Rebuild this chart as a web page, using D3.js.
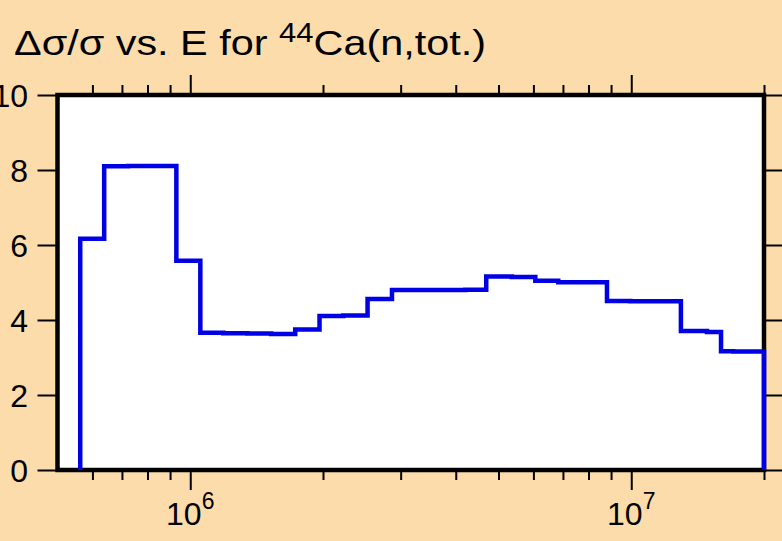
<!DOCTYPE html>
<html lang="en">
<head>
    <meta charset="UTF-8">
    <title>Relative uncertainty vs. E for 44Ca(n,tot.)</title>
    <style>
        body {
            margin: 0;
            background: #fddcab;
            font-family: "Liberation Sans", Arial, sans-serif;
        }
        .axis path {
            display: none;
        }
        .axis line {
            stroke: #000;
            stroke-width: 2px;
        }
    </style>
</head>
<body>
    <div id="chart"></div>

    <script src="https://d3js.org/d3.v7.min.js"></script>
    <script>
        // bin lower edges (eV) and relative uncertainty (%) of each bin
        var binEdges = [5.63e5, 6.38e5, 7.23e5, 8.2e5, 9.3e5, 1.054e6, 1.188e6, 1.347e6, 1.526e6,
            1.73e6, 1.964e6, 2.223e6, 2.524e6, 2.867e6, 3.237e6, 3.65e6, 4.205e6, 4.69e6,
            5.36e6, 6.06e6, 6.83e6, 8.81e6, 9.95e6, 1.104e7, 1.213e7, 1.296e7, 1.485e7,
            1.598e7, 1.703e7];
        var binValues = [6.17, 8.10, 8.11, 8.11, 5.58, 3.66, 3.65, 3.64, 3.63,
            3.75, 4.11, 4.12, 4.56, 4.80, 4.80, 4.80, 4.81, 5.16,
            5.15, 5.05, 5.01, 4.51, 4.50, 4.50, 4.50, 3.71, 3.68,
            3.17, 3.16];
        var lastEdge = 2e7;

        var xDomain = [5e5, 2e7];
        var yDomain = [0, 10];
        var yTicks = [0, 2, 4, 6, 8, 10];
        var xMajor = [1e6, 1e7];
        var xMajorExp = ["6", "7"];
        var xMinor = [6e5, 7e5, 8e5, 9e5, 2e6, 3e6, 4e6, 5e6, 6e6, 7e6, 8e6, 9e6, 2e7];

        var width = 782,
            height = 541;
        var plotL = 57.5, plotR = 764, plotT = 95, plotB = 470;

        var svg = d3.select("#chart").append("svg")
            .attr("width", width)
            .attr("height", height)
            .style("display", "block");

        var x = d3.scaleLog().domain(xDomain).range([plotL, plotR]);
        var y = d3.scaleLinear().domain(yDomain).range([plotB, plotT]);

        // title (the original lettering is a bit wider than Liberation Sans)
        var title = svg.append("text")
            .attr("transform", "translate(14,55) scale(1.15,1)")
            .attr("font-size", 36);
        title.append("tspan").text("\u0394\u03c3/\u03c3 vs. E for ");
        title.append("tspan").attr("dy", -13).attr("font-size", 27).text("44");
        title.append("tspan").attr("dy", 13).text("Ca(n,tot.)");

        // plot area
        svg.append("rect")
            .attr("x", plotL)
            .attr("y", plotT)
            .attr("width", plotR - plotL)
            .attr("height", plotB - plotT)
            .attr("fill", "#fff");

        // axes
        svg.append("g").attr("class", "axis")
            .attr("transform", "translate(0," + plotB + ")")
            .call(d3.axisBottom(x).tickValues(xMajor).tickSize(20).tickFormat(""));
        svg.append("g").attr("class", "axis")
            .attr("transform", "translate(0," + plotB + ")")
            .call(d3.axisBottom(x).tickValues(xMinor).tickSize(10).tickFormat(""));
        svg.append("g").attr("class", "axis")
            .attr("transform", "translate(0," + plotT + ")")
            .call(d3.axisTop(x).tickValues(xMajor).tickSize(20).tickFormat(""));
        svg.append("g").attr("class", "axis")
            .attr("transform", "translate(0," + plotT + ")")
            .call(d3.axisTop(x).tickValues(xMinor).tickSize(10).tickFormat(""));
        svg.append("g").attr("class", "axis")
            .attr("transform", "translate(" + plotL + ",0)")
            .call(d3.axisLeft(y).tickValues(yTicks).tickSize(20).tickFormat(""));
        svg.append("g").attr("class", "axis")
            .attr("transform", "translate(" + plotR + ",0)")
            .call(d3.axisRight(y).tickValues(yTicks).tickSize(20).tickFormat(""));

        // y labels
        svg.selectAll(".ylbl")
            .data(yTicks)
            .enter().append("text")
            .attr("class", "ylbl")
            .attr("font-size", 32)
            .attr("x", 28)
            .attr("y", function(d) { return y(d); })
            .attr("dy", "0.36em")
            .attr("text-anchor", "end")
            .text(function(d) { return d; });

        // x labels 10^n
        var xl = svg.selectAll(".xlbl")
            .data(xMajor)
            .enter().append("text")
            .attr("class", "xlbl")
            .attr("font-size", 32)
            .attr("x", function(d) { return x(d); })
            .attr("y", 525)
            .attr("text-anchor", "middle");
        xl.append("tspan").text("10");
        xl.append("tspan")
            .attr("dy", -16)
            .attr("font-size", 23)
            .text(function(d, i) { return xMajorExp[i]; });

        // frame
        svg.append("rect")
            .attr("x", plotL)
            .attr("y", plotT)
            .attr("width", plotR - plotL)
            .attr("height", plotB - plotT)
            .attr("fill", "none")
            .attr("stroke", "#000")
            .attr("stroke-width", 4.5);

        // step histogram
        var pts = [[binEdges[0], 0]];
        binEdges.forEach(function(e, i) { pts.push([e, binValues[i]]); });
        pts.push([lastEdge, binValues[binValues.length - 1]]);
        pts.push([lastEdge, 0]);

        var line = d3.line()
            .x(function(d) { return x(d[0]); })
            .y(function(d) { return y(d[1]); })
            .curve(d3.curveStepAfter);

        svg.append("path")
            .datum(pts)
            .attr("d", line)
            .attr("fill", "none")
            .attr("stroke", "#0000e6")
            .attr("stroke-width", 4.5);
    </script>
</body>
</html>
